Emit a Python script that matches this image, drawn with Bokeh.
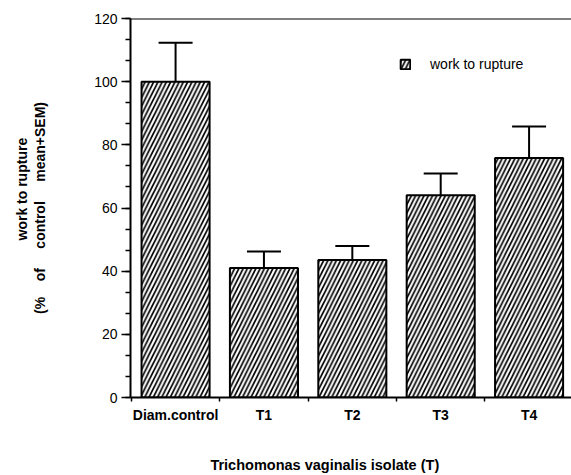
from bokeh.plotting import figure
from bokeh.models import (Range1d, FixedTicker, SingleIntervalTicker, Whisker, TeeHead,
                          ColumnDataSource, Span, Title)
from bokeh.embed import file_html
from bokeh.resources import INLINE

# ---- data ----
categories = ["Diam.control", "T1", "T2", "T3", "T4"]
values = [100, 41, 43.5, 64, 75.8]
sem = [12.3, 5.2, 4.5, 6.9, 10.0]
series_name = "work to rupture"
x_title = "Trichomonas vaginalis isolate (T)"
y_title_1 = "work to rupture"
y_title_2 = "(%\u00a0\u00a0\u00a0\u00a0of\u00a0\u00a0\u00a0\u00a0\u00a0control\u00a0\u00a0\u00a0\u00a0\u00a0mean+SEM)"

FONT = "Liberation Sans"
PAD = "\u00a0" * 13  # shifts the centred x title left, as in the original

xs = [i + 0.5 for i in range(len(categories))]
src = ColumnDataSource(dict(
    x=xs, top=values, upper=[v + e for v, e in zip(values, sem)], cat=categories))

p = figure(width=571, height=475, x_range=Range1d(-0.01, 4.98), y_range=Range1d(0, 120),
           output_backend="svg", toolbar_location=None,
           min_border_left=130, min_border_right=0, min_border_top=18, min_border_bottom=77)
p.grid.visible = False
p.outline_line_color = None
p.background_fill_color = "white"
p.border_fill_color = "white"

p.vbar(x="x", top="top", width=0.77, source=src, fill_color="white",
       line_color="black", line_width=2, hatch_pattern="/", hatch_color="black",
       hatch_scale=8.5, hatch_weight=1.7, legend_label=series_name)

p.add_layout(Whisker(source=src, base="x", lower="top", upper="upper", line_width=2,
                     line_color="black", lower_head=None,
                     upper_head=TeeHead(size=34, line_width=2, line_color="black")))

p.add_layout(Span(location=120, dimension="width", line_color="black", line_width=2))
p.add_layout(Span(location=4.98, dimension="height", line_color="#b8b8b8", line_width=1))

# x axis
xa = p.xaxis[0]
xa.ticker = FixedTicker(ticks=xs, minor_ticks=[0, 1, 2, 3, 4])
xa.major_label_overrides = {x: c for x, c in zip(xs, categories)}
xa.major_tick_out = 0
xa.major_tick_in = 0
xa.minor_tick_out = 4
xa.minor_tick_in = 0
xa.minor_tick_line_width = 1.5
xa.minor_tick_line_color = "black"
xa.axis_line_width = 2
xa.axis_line_color = "black"
xa.major_label_standoff = 5
xa.major_label_text_font = FONT
xa.major_label_text_font_size = "14px"
xa.major_label_text_font_style = "bold"
xa.major_label_text_color = "black"
xa.axis_label = x_title + PAD
xa.axis_label_standoff = 31
xa.axis_label_text_font = FONT
xa.axis_label_text_font_size = "14.5px"
xa.axis_label_text_font_style = "bold"
xa.axis_label_text_color = "black"

# y axis
ya = p.yaxis[0]
ya.ticker = SingleIntervalTicker(interval=20, num_minor_ticks=3)
ya.major_tick_out = 9
ya.major_tick_in = 0
ya.minor_tick_out = 5
ya.minor_tick_in = 0
ya.major_tick_line_width = 1.5
ya.minor_tick_line_width = 1.5
ya.major_tick_line_color = "black"
ya.minor_tick_line_color = "black"
ya.axis_line_width = 2
ya.axis_line_color = "black"
ya.major_label_standoff = 4
ya.major_label_text_font = FONT
ya.major_label_text_font_size = "14px"
ya.major_label_text_color = "black"
ya.axis_label = y_title_2
ya.axis_label_standoff = 43
ya.axis_label_text_font = FONT
ya.axis_label_text_font_size = "14px"
ya.axis_label_text_font_style = "bold"
ya.axis_label_text_color = "black"

p.add_layout(Title(text=y_title_1, align="left", offset=157, standoff=-1, text_font=FONT,
                   text_font_size="14px", text_font_style="bold", text_color="black"), "left")

lg = p.legend[0]
lg.location = (269, 325)
lg.border_line_color = None
lg.background_fill_alpha = 0
lg.padding = 0
lg.margin = 0
lg.glyph_width = 12
lg.glyph_height = 12
lg.label_height = 12
lg.label_standoff = 19
lg.label_text_font = FONT
lg.label_text_font_size = "14px"
lg.label_text_color = "black"

open("out.html", "w").write(file_html(p, INLINE))
